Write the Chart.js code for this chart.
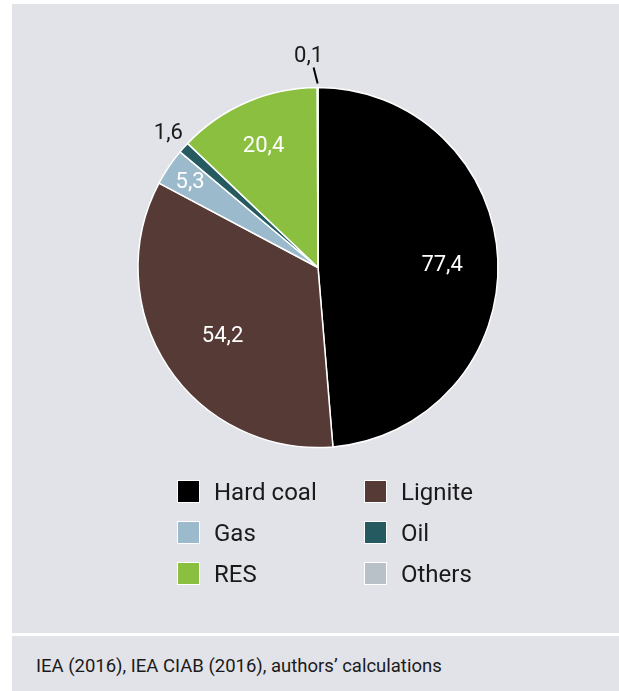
<!DOCTYPE html>
<html>
<head>
<meta charset="utf-8">
<script src="https://cdn.jsdelivr.net/npm/chart.js@4/dist/chart.umd.min.js"></script>
<style>
  html, body { margin: 0; padding: 0; background: #ffffff; }
  body { width: 619px; height: 691px; position: relative; overflow: hidden; font-family: Roboto, "Noto Sans", sans-serif; }
  .panel { position: absolute; background: #e2e3e8; }
  #top { left: 12px; top: 4px; width: 607px; height: 629px; }
  #foot { left: 12px; top: 636px; width: 607px; height: 55px; }
  #source { position: absolute; left: 36px; top: 655px; font-size: 18.5px; line-height: 22px; color: #1a1a1a; white-space: nowrap; }
  #chart { position: absolute; left: 0; top: 0; }
  #legend { position: absolute; left: 0; top: 0; }
  .item { position: absolute; height: 23px; display: flex; align-items: center; font-size: 24px; color: #1a1a1a; white-space: nowrap; }
  .box { width: 21px; height: 21px; border: 1px solid #ffffff; margin-right: 14px; }
</style>
</head>
<body>
<div class="panel" id="top"></div>
<div class="panel" id="foot"></div>
<div id="source">IEA (2016), IEA CIAB (2016), authors’ calculations</div>
<canvas id="chart" width="619" height="691"></canvas>
<div id="legend"></div>
<script>
// categories and values
var categories = ['Hard coal', 'Lignite', 'Gas', 'Oil', 'RES', 'Others'];
var values = [77.4, 54.2, 5.3, 1.6, 20.4, 0.1];
var valueLabels = ['77,4', '54,2', '5,3', '1,6', '20,4', '0,1'];
var colours = ['#000000', '#553a36', '#9bbbcd', '#255a61', '#8abf40', '#b9c1c8'];

// where each label sits: fraction of the radius, text colour, small nudges
var labelPlace = [
    { r: 0.69, color: '#ffffff', dx: 0, dy: 3 },
    { r: 0.655, color: '#ffffff', dx: 3, dy: 4 },
    { r: 0.857, color: '#ffffff', dx: 0, dy: 1 },
    { r: 1.115, color: '#1a1a1a', dx: 0, dy: 0 },
    { r: 0.736, color: '#ffffff', dx: -2, dy: 1 },
    { r: 1.198, color: '#1a1a1a', dx: -9, dy: 5, leader: true }
];

var pieLabels = {
    id: 'pieLabels',
    afterDatasetsDraw: function (chart) {
        var ctx = chart.ctx;
        var arcs = chart.getDatasetMeta(0).data;
        ctx.save();
        ctx.font = '22px Roboto, "Noto Sans", sans-serif';
        ctx.textAlign = 'center';
        ctx.textBaseline = 'middle';
        for (var i = 0; i < arcs.length; i++) {
            var a = arcs[i];
            var p = labelPlace[i];
            var mid = (a.startAngle + a.endAngle) / 2;
            var rr = a.outerRadius * p.r;
            var x = a.x + Math.cos(mid) * rr + p.dx;
            var y = a.y + Math.sin(mid) * rr + p.dy;
            if (p.leader) {
                ctx.strokeStyle = '#000000';
                ctx.lineWidth = 2;
                ctx.beginPath();
                ctx.moveTo(a.x + Math.cos(mid) * (a.outerRadius + 4), a.y + Math.sin(mid) * (a.outerRadius + 4));
                ctx.lineTo(a.x + Math.cos(mid) * (a.outerRadius + 20) - 4, a.y + Math.sin(mid) * (a.outerRadius + 20));
                ctx.stroke();
            }
            ctx.fillStyle = p.color;
            ctx.fillText(valueLabels[i], x, y);
        }
        ctx.restore();
    }
};

var el = document.getElementById('chart');
var ctx = el.getContext('2d');
var myChart = new Chart(ctx, {
    type: 'pie',
    data: {
        labels: categories,
        datasets: [{
            data: values,
            backgroundColor: colours,
            borderColor: '#ffffff',
            borderWidth: 1.5,
            hoverOffset: 0
        }]
    },
    options: {
        responsive: false,
        animation: false,
        layout: { padding: { left: 137.25, right: 120.25, top: 86.75, bottom: 242.75 } },
        plugins: {
            legend: { display: false },
            tooltip: { enabled: false }
        },
        events: []
    },
    plugins: [pieLabels]
});

// legend, two columns, row by row
var legend = document.getElementById('legend');
var colX = [177, 364];
var rowY = [480, 521, 562];
for (var i = 0; i < categories.length; i++) {
    var item = document.createElement('div');
    item.className = 'item';
    item.style.left = colX[i % 2] + 'px';
    item.style.top = rowY[Math.floor(i / 2)] + 'px';
    var box = document.createElement('div');
    box.className = 'box';
    box.style.background = colours[i];
    item.appendChild(box);
    item.appendChild(document.createTextNode(categories[i]));
    legend.appendChild(item);
}
</script>
</body>
</html>
